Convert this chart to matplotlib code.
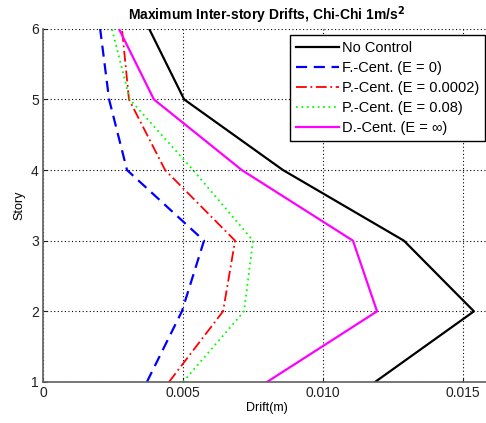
import matplotlib
matplotlib.use("Agg")
import matplotlib.pyplot as plt

plt.rcParams['font.family'] = ['Liberation Sans', 'DejaVu Sans']

story = [1, 2, 3, 4, 5, 6]
no_control = [0.01186, 0.01539, 0.01289, 0.00857, 0.00504, 0.00379]
f_cent = [0.00371, 0.00496, 0.00575, 0.00300, 0.00236, 0.00204]
p_cent_small = [0.00450, 0.00643, 0.00686, 0.00436, 0.00307, 0.00282]
p_cent_large = [0.00500, 0.00718, 0.00750, 0.00536, 0.00310, 0.00246]
d_cent = [0.00800, 0.01193, 0.01107, 0.00710, 0.00396, 0.00271]

labels = ['No Control', 'F.-Cent. (E = 0)', 'P.-Cent. (E = 0.0002)',
          'P.-Cent. (E = 0.08)', 'D.-Cent. (E = \u221e)']
xticks = [0, 0.005, 0.010, 0.015]
xtick_labels = ['0', '0.005', '0.010', '0.015']

fig = plt.figure(figsize=(4.86, 4.23), dpi=100)
ax = fig.add_axes([0.0885, 0.097, 1.0103 - 0.0885, 0.932 - 0.097])

ax.plot(no_control, story, color='black', lw=1.6, label=labels[0])
ax.plot(f_cent, story, color='#0000ff', lw=1.6, ls=(0, (5, 3)), label=labels[1])
ax.plot(p_cent_small, story, color='#ff0000', lw=1.3, ls=(0, (6, 2, 1, 2)), label=labels[2])
ax.plot(p_cent_large, story, color='#00ff00', lw=1.3, ls=(0, (1, 2)), label=labels[3])
ax.plot(d_cent, story, color='#ff00ff', lw=1.6, label=labels[4])

ax.set_xlim(0, 0.016)
ax.set_ylim(1, 6)
ax.set_xticks(xticks)
ax.set_xticklabels(xtick_labels)
ax.set_yticks(story)
ax.tick_params(direction='in', length=3, labelsize=10, colors='#202020', pad=3)
ax.grid(True, color='black', ls=(0, (1, 2.2)), lw=0.8)

for side in ['top', 'right']:
    ax.spines[side].set_visible(False)
for side in ['left', 'bottom']:
    ax.spines[side].set_color('#606060')
    ax.spines[side].set_linewidth(1.2)

ax.set_xlabel('Drift(m)', fontsize=9, labelpad=1)
ax.set_ylabel('Story', fontsize=9, labelpad=4)
ax.set_title('Maximum Inter-story Drifts, Chi-Chi 1m/s$^\\mathbf{2}$',
             fontsize=10, fontweight='bold', pad=6)

leg = ax.legend(loc='upper right', bbox_to_anchor=(0.986, 0.982), fontsize=10.5,
                handlelength=3.0, handletextpad=0.15, borderpad=0.4,
                labelspacing=0.42, fancybox=False, framealpha=1,
                edgecolor='black', borderaxespad=0)
leg.get_frame().set_linewidth(1.0)

fig.savefig('out.png', dpi=100)
